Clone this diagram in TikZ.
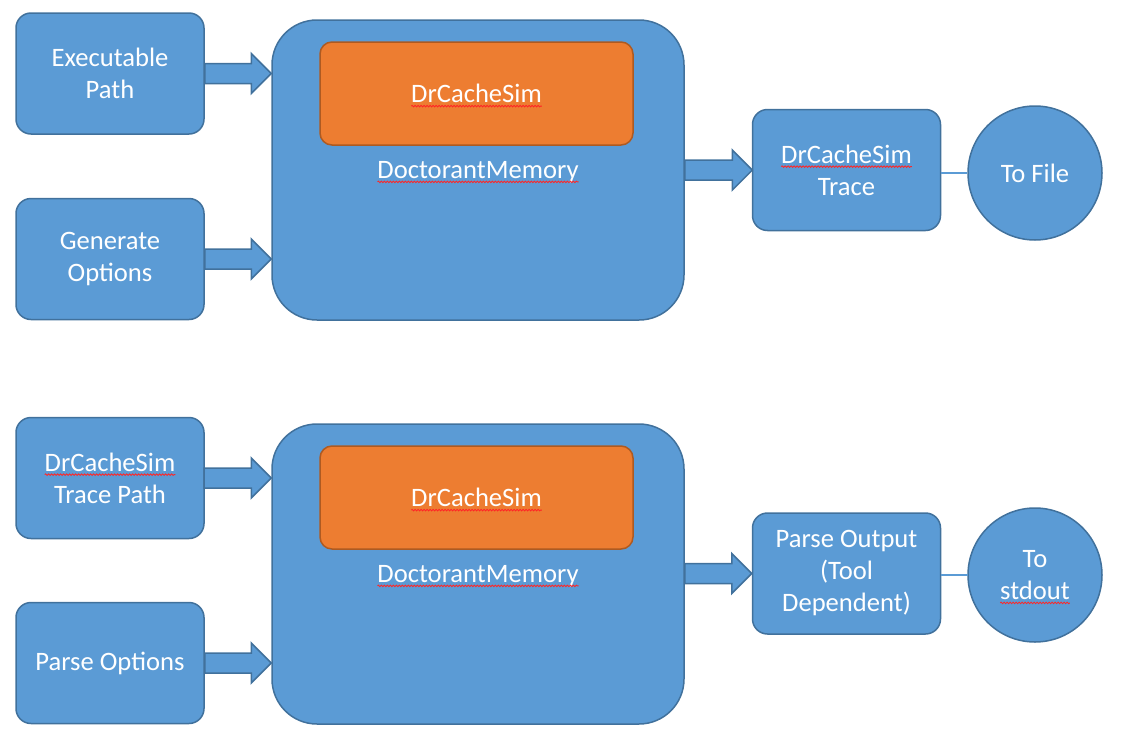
\documentclass[tikz,border=0pt]{standalone}
\usepackage{fontspec}
\setmainfont{Carlito}
\usetikzlibrary{calc,decorations.pathmorphing}

\definecolor{boxblue}{RGB}{91,155,213}
\definecolor{boxedge}{RGB}{65,113,156}
\definecolor{coreorange}{RGB}{237,125,49}
\definecolor{coreedge}{RGB}{174,90,33}

\tikzset{every picture/.style={line width=1.5pt}}
\tikzset{
  box/.style={rectangle, rounded corners=15pt, draw=boxedge, fill=boxblue, text=white,
    minimum width=188pt, minimum height=121pt, inner sep=0pt, align=center,
    font=\fontsize{26.6}{32}\selectfont},
  hub/.style={box, rounded corners=45pt, minimum width=412pt, minimum height=300pt},
  core/.style={box, rounded corners=12pt, draw=coreedge, fill=coreorange,
    minimum width=313pt, minimum height=103pt},
  sink/.style={box, circle, minimum size=134pt},
  caption/.style={inner sep=0pt, text=white, font=\fontsize{26.6}{32}\selectfont},
  fatarrow/.style={draw=boxedge, fill=boxblue, line join=miter},
  link/.style={draw=boxblue, line width=2pt}
}

% red spell-check wave under a word
\newcommand{\spellmark}[1]{\tikz[baseline=(w.base)]{\node[rectangle,draw=none,fill=none,minimum size=0pt,
    inner sep=0pt,outer sep=0pt,text=white] (w) {#1};
  \draw[overlay,sharp corners,red!85!white,line width=0.8pt,decorate,decoration={snake,amplitude=0.8pt,segment length=3pt}]
    ([yshift=-3.5pt]w.base west) -- ([yshift=-3.5pt]w.base east);}}

% block arrow from #1 (tail) to #2 (tip)
\newcommand{\fatarrow}[2]{%
  \draw[fatarrow] ($(#1)+(0,-10)$) -- ($(#2)+(-20,-10)$) -- ($(#2)+(-20,-20)$) -- (#2)
    -- ($(#2)+(-20,20)$) -- ($(#2)+(-20,10)$) -- ($(#1)+(0,10)$) -- cycle;}

\begin{document}
\begin{tikzpicture}[x=1pt,y=-1pt]
\useasboundingbox (0,0) rectangle (1125,742);

%Top row: trace generation
\node[box] (exe) at (110,73.5) {Executable\\Path};
\node[box] (gen) at (110,259) {Generate\\Options};
\node[hub] (hub) at (478,170) {};
\node[core] (core) at (476.5,93.5) {\spellmark{DrCacheSim}};
\node[caption] (dm) at (478,172) {\spellmark{DoctorantMemory}};
\node[box] (trace) at (846.5,170) {\spellmark{DrCacheSim}\\Trace};
\node[sink] (tofile) at (1035,173) {To File};

\coordinate (exein) at (hub.west |- exe.east);
\coordinate (genin) at (hub.west |- gen.east);
\coordinate (hubout) at (hub.east |- trace.west);
\fatarrow{exe.east}{exein}
\fatarrow{gen.east}{genin}
\fatarrow{hubout}{trace.west}
\draw[link] (trace.east |- tofile.west) -- (tofile.west);

%Bottom row: trace parsing
\node[box] (path) at (110,478) {\spellmark{DrCacheSim}\\Trace Path};
\node[box] (popt) at (110,663) {Parse Options};
\node[hub] (hubb) at (478,574) {};
\node[core] (coreb) at (476.5,497.5) {\spellmark{DrCacheSim}};
\node[caption] (dmb) at (478,576) {\spellmark{DoctorantMemory}};
\node[box] (parse) at (846.5,573.5) {Parse Output\\(Tool\\Dependent)};
\node[sink] (stdout) at (1035,575) {To\\\spellmark{stdout}};

\coordinate (pathin) at (hubb.west |- path.east);
\coordinate (poptin) at (hubb.west |- popt.east);
\coordinate (hubbout) at (hubb.east |- parse.west);
\fatarrow{path.east}{pathin}
\fatarrow{popt.east}{poptin}
\fatarrow{hubbout}{parse.west}
\draw[link] (parse.east |- stdout.west) -- (stdout.west);

\end{tikzpicture}
\end{document}
